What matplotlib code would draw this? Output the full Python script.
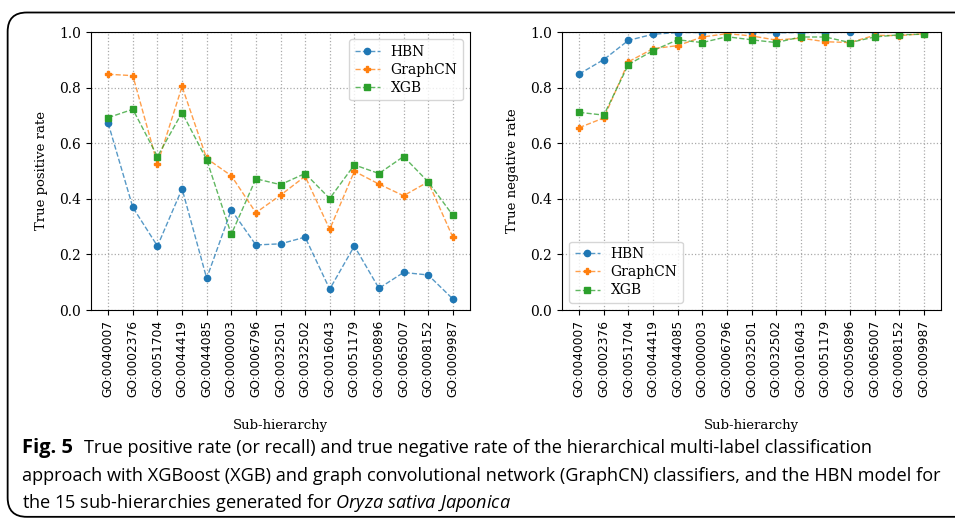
import matplotlib
matplotlib.use('Agg')
from matplotlib import pyplot as plt
from matplotlib.colors import to_rgba
from matplotlib.patches import FancyBboxPatch

# sub-hierarchies (x tick labels)
sub_hierarchies = ["GO:0040007", "GO:0002376", "GO:0051704", "GO:0044419", "GO:0044085",
                   "GO:0000003", "GO:0006796", "GO:0032501", "GO:0032502", "GO:0016043",
                   "GO:0051179", "GO:0050896", "GO:0065007", "GO:0008152", "GO:0009987"]

# true positive rate
tpr_hbn = [0.671, 0.369, 0.230, 0.436, 0.114, 0.360, 0.234, 0.238, 0.262, 0.075,
           0.230, 0.078, 0.135, 0.126, 0.040]
tpr_graphcn = [0.848, 0.843, 0.525, 0.804, 0.545, 0.483, 0.350, 0.413, 0.481, 0.290,
               0.499, 0.453, 0.411, 0.461, 0.262]
tpr_xgb = [0.692, 0.722, 0.552, 0.710, 0.541, 0.272, 0.472, 0.451, 0.491, 0.401,
           0.522, 0.491, 0.552, 0.461, 0.341]

# true negative rate
tnr_hbn = [0.849, 0.901, 0.970, 0.992, 0.998, 0.998, 0.999, 0.998, 0.997, 0.998,
           0.998, 0.999, 0.999, 0.999, 0.999]
tnr_graphcn = [0.656, 0.691, 0.893, 0.940, 0.951, 0.982, 0.994, 0.986, 0.971, 0.978,
               0.965, 0.962, 0.988, 0.987, 0.994]
tnr_xgb = [0.711, 0.701, 0.883, 0.933, 0.972, 0.962, 0.983, 0.972, 0.962, 0.982,
           0.982, 0.962, 0.982, 0.990, 0.992]

series_names = ["HBN", "GraphCN", "XGB"]
colors = ["#1f77b4", "#ff7f0e", "#2ca02c"]
markers = ["o", "P", "s"]

plt.rcParams['font.family'] = 'DejaVu Serif'
plt.rcParams['mathtext.fontset'] = 'custom'
plt.rcParams['mathtext.it'] = 'Open Sans:italic'
plt.rcParams['mathtext.rm'] = 'Open Sans'

fig = plt.figure(figsize=(9.55, 5.21), dpi=100)

# rounded frame round the figure
frame = FancyBboxPatch((0.008, 0.008), 1.2, 0.968, boxstyle="round,pad=0,rounding_size=0.02",
                       transform=fig.transFigure, fill=False, edgecolor="black", linewidth=1.3,
                       mutation_aspect=955 / 521)
fig.patches.append(frame)

ax_l = fig.add_axes([91 / 955, 1 - 310 / 521, 379 / 955, 278 / 521])
ax_r = fig.add_axes([562 / 955, 1 - 310 / 521, 379 / 955, 278 / 521])

x = list(range(len(sub_hierarchies)))


def draw_panel(ax, data, ylabel, legend_loc):
    for vals, name, c, m in zip(data, series_names, colors, markers):
        ax.plot(x, vals, linestyle="--", color=to_rgba(c, 0.75), marker=m, markersize=4.5,
                markerfacecolor=c, markeredgecolor=c, linewidth=1.0, label=name)
    ax.set_ylim(0, 1.0)
    ax.set_yticks([0.0, 0.2, 0.4, 0.6, 0.8, 1.0])
    ax.set_xticks(x)
    ax.set_xticklabels(sub_hierarchies, rotation=90, fontfamily="DejaVu Sans", fontsize=8.8)
    ax.tick_params(axis="y", labelsize=10)
    ax.grid(True, linestyle=":", color="#aaaaaa", linewidth=0.9)
    ax.set_ylabel(ylabel, fontsize=9.5, labelpad=8)
    ax.set_xlabel("Sub-hierarchy", fontsize=9.5, labelpad=16)
    ax.legend(loc=legend_loc, fontsize=10, handlelength=1.8, labelspacing=0.3)


draw_panel(ax_l, [tpr_hbn, tpr_graphcn, tpr_xgb], "True positive rate", "upper right")
draw_panel(ax_r, [tnr_hbn, tnr_graphcn, tnr_xgb], "True negative rate", "lower left")

cap_font = ['Open Sans', 'DejaVu Sans']
cap_size = 13.1
fig.text(22 / 955, 1 - 448 / 521, "Fig. 5", fontsize=14.5, fontweight="bold",
         family=cap_font, va="center")
fig.text(84 / 955, 1 - 448 / 521,
         "True positive rate (or recall) and true negative rate of the hierarchical multi-label classification",
         fontsize=cap_size, family=cap_font, va="center")
fig.text(22 / 955, 1 - 476 / 521,
         "approach with XGBoost (XGB) and graph convolutional network (GraphCN) classifiers, and the HBN model for",
         fontsize=cap_size, family=cap_font, va="center")
fig.text(22 / 955, 1 - 503 / 521,
         "the 15 sub-hierarchies generated for $\\it{Oryza\\ sativa\\ Japonica}$",
         fontsize=cap_size, family=cap_font, va="center")

fig.savefig("out.png", dpi=100)
